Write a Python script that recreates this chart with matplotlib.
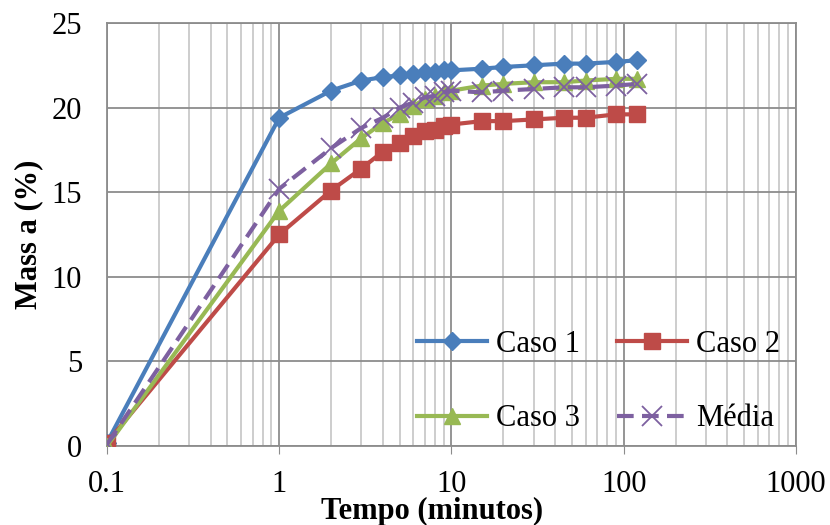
import numpy as np
import matplotlib
matplotlib.use('Agg')
import matplotlib.pyplot as plt
from matplotlib.ticker import LogLocator, FixedLocator, NullFormatter

plt.rcParams['font.family'] = ['Liberation Serif', 'DejaVu Serif']

# tempo (minutos)
tempo = [0.1, 1, 2, 3, 4, 5, 6, 7, 8, 9, 10, 15, 20, 30, 45, 60, 90, 120]
caso1 = [0.2, 19.4, 21.0, 21.6, 21.8, 21.9, 22.0, 22.1, 22.1, 22.2, 22.2,
         22.3, 22.4, 22.5, 22.6, 22.6, 22.7, 22.8]
caso2 = [0.2, 12.5, 15.1, 16.4, 17.4, 17.9, 18.3, 18.6, 18.7, 18.9, 19.0,
         19.2, 19.2, 19.3, 19.4, 19.4, 19.6, 19.6]
caso3 = [0.0, 13.9, 16.7, 18.2, 19.1, 19.6, 20.1, 20.5, 20.7, 20.9, 21.0,
         21.3, 21.4, 21.5, 21.5, 21.6, 21.7, 21.7]
media = [0.1, 15.2, 17.6, 18.8, 19.4, 20.0, 20.3, 20.6, 20.7, 20.9, 21.0,
         20.9, 21.0, 21.1, 21.2, 21.2, 21.3, 21.4]

fig = plt.figure(figsize=(8.3, 5.25), dpi=100)
ax = fig.add_axes([0.1289, 0.1505, 0.8301, 0.8057])

lw = 3.0
l1, = ax.plot(tempo, caso1, '-', color='#4A7EBB', lw=lw, marker='D', ms=9,
              label='Caso 1', zorder=3)
l2, = ax.plot(tempo, caso2, '-', color='#BE4B48', lw=lw, marker='s', ms=12,
              label='Caso 2', zorder=3)
l3, = ax.plot(tempo, caso3, '-', color='#98B954', lw=lw, marker='^', ms=12,
              label='Caso 3', zorder=3)
l4, = ax.plot(tempo, media, '--', color='#7D60A0', lw=lw, marker='x', ms=14,
              mew=1.3, dashes=(4, 2), label='Média', zorder=3)

ax.set_xscale('log')
ax.set_xlim(0.1, 1000)
ax.set_ylim(0, 25)
ax.xaxis.set_major_locator(FixedLocator([0.1, 1, 10, 100, 1000]))
ax.set_xticklabels(['0.1', '1', '10', '100', '1000'])
ax.xaxis.set_minor_locator(LogLocator(base=10, subs=np.arange(2, 10)))
ax.xaxis.set_minor_formatter(NullFormatter())
ax.set_yticks([0, 5, 10, 15, 20, 25])

ax.grid(True, which='major', color='#8C8C8C', lw=1.3)
ax.grid(True, which='minor', axis='x', color='#C0C0C0', lw=1.1)
ax.set_axisbelow(True)
for s in ax.spines.values():
    s.set_color('#8C8C8C')
    s.set_linewidth(1.3)

ax.tick_params(axis='x', which='major', length=6, color='#8C8C8C',
               labelsize=22, pad=11)
ax.tick_params(axis='x', which='minor', length=0)
ax.tick_params(axis='y', length=0, labelsize=22, pad=18)

ax.set_xlabel('Tempo (minutos)', fontsize=22, fontweight='bold', labelpad=-1)
ax.xaxis.label.set_x(0.472)
ax.set_ylabel('Mass a (%)', fontsize=22, fontweight='bold', labelpad=6)

ax.legend([l1, l3, l2, l4], ['Caso 1', 'Caso 3', 'Caso 2', 'Média'],
          loc='lower right', ncol=2, frameon=False, fontsize=22,
          handlelength=2.3, columnspacing=1.2, labelspacing=1.48,
          handletextpad=0.3, borderpad=0, borderaxespad=0,
          bbox_to_anchor=(0.977, 0.03))

plt.savefig('out.png', dpi=100)
